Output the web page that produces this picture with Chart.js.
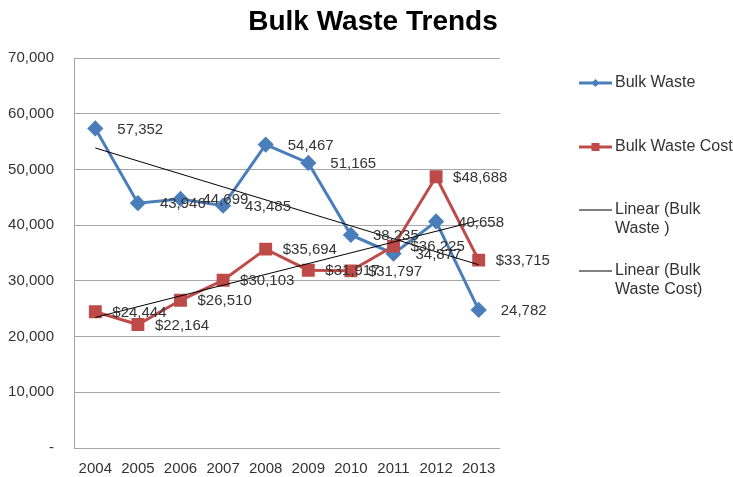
<!DOCTYPE html>
<html>
<head>
<meta charset="utf-8">
<script src="https://cdn.jsdelivr.net/npm/chart.js@4.4.0/dist/chart.umd.min.js"></script>
<style>
  html, body { margin: 0; padding: 0; background: #fff; }
  #wrap { width: 733px; height: 477px; position: relative; }
</style>
</head>
<body>
<div id="wrap"><canvas id="chart" width="733" height="477"></canvas></div>
<script>
const years = ["2004", "2005", "2006", "2007", "2008", "2009", "2010", "2011", "2012", "2013"];
const bulkWaste = [57352, 43946, 44699, 43485, 54467, 51165, 38235, 34877, 40658, 24782];
const bulkWasteCost = [24444, 22164, 26510, 30103, 35694, 31917, 31797, 36225, 48688, 33715];
// trendline ends (first and last year only)
const trendWaste = [53850, null, null, null, null, null, null, null, null, 32890];
const trendCost = [23430, null, null, null, null, null, null, null, null, 40830];
const yTicks = [0, 10000, 20000, 30000, 40000, 50000, 60000, 70000];

const BLUE = "#4a7ebb", RED = "#be4b48", TXT = "#333333", FONT = "'Liberation Sans', Arial, sans-serif";

const fmt = v => v.toLocaleString("en-US");

// title drawn by hand so it can sit centred on the whole picture
const titlePlugin = {
    id: "titlePlugin",
    afterDraw(chart) {
        const ctx = chart.ctx;
        ctx.save();
        ctx.font = "bold 28px " + FONT; ctx.fillStyle = "#000"; ctx.textAlign = "center"; ctx.textBaseline = "middle";
        ctx.fillText("Bulk Waste Trends", 373, 22);
        ctx.restore();
    }
};

// value labels to the right of each point, like Excel's "Right" position
const pointLabels = {
    id: "pointLabels",
    afterDatasetsDraw(chart) {
        const ctx = chart.ctx;
        ctx.save();
        ctx.font = "15px " + FONT; ctx.fillStyle = TXT; ctx.textBaseline = "middle"; ctx.textAlign = "left";
        [[0, v => fmt(v), 22], [1, v => "$" + fmt(v), 17]].forEach(([di, f, dx]) => {
            const ds = chart.data.datasets[di];
            chart.getDatasetMeta(di).data.forEach((pt, i) => ctx.fillText(f(ds.data[i]), pt.x + dx, pt.y + 1));
        });
        ctx.restore();
    }
};

// legend on the right, spaced out like the original
const sideLegend = {
    id: "sideLegend",
    afterDraw(chart) {
        const ctx = chart.ctx;
        const x0 = 579, x1 = 612, tx = 615;
        const items = [
            { y: 83, lines: ["Bulk Waste"], color: BLUE, w: 3, marker: "diamond" },
            { y: 147, lines: ["Bulk Waste Cost"], color: RED, w: 3, marker: "square" },
            { y: 210, lines: ["Linear (Bulk", "Waste )"], color: "#000", w: 1 },
            { y: 271, lines: ["Linear (Bulk", "Waste Cost)"], color: "#000", w: 1 }
        ];
        ctx.save();
        items.forEach(it => {
            ctx.strokeStyle = it.color; ctx.lineWidth = it.w;
            ctx.beginPath(); ctx.moveTo(x0, it.y); ctx.lineTo(x1, it.y); ctx.stroke();
            const mx = (x0 + x1) / 2;
            ctx.fillStyle = it.color;
            if (it.marker === "diamond") {
                ctx.beginPath(); ctx.moveTo(mx, it.y - 4); ctx.lineTo(mx + 4, it.y); ctx.lineTo(mx, it.y + 4); ctx.lineTo(mx - 4, it.y); ctx.closePath(); ctx.fill();
            } else if (it.marker === "square") {
                ctx.fillRect(mx - 4, it.y - 4, 8, 8);
            }
            ctx.font = "16px " + FONT; ctx.fillStyle = TXT; ctx.textBaseline = "middle"; ctx.textAlign = "left";
            it.lines.forEach((l, k) => ctx.fillText(l, tx, it.y + k * 19));
        });
        ctx.restore();
    }
};

new Chart(document.getElementById("chart"), {
    type: "line",
    data: {
        labels: years,
        datasets: [
            { label: "Bulk Waste", data: bulkWaste, borderColor: BLUE, backgroundColor: BLUE, borderWidth: 3, pointStyle: "rectRot", pointRadius: 6, order: 2 },
            { label: "Bulk Waste Cost", data: bulkWasteCost, borderColor: RED, backgroundColor: RED, borderWidth: 3, pointStyle: "rect", pointRadius: 7, order: 1 },
            { label: "Linear (Bulk Waste )", data: trendWaste, borderColor: "#000", borderWidth: 1, pointRadius: 0, spanGaps: true, order: 0 },
            { label: "Linear (Bulk Waste Cost)", data: trendCost, borderColor: "#000", borderWidth: 1, pointRadius: 0, spanGaps: true, order: 0 }
        ]
    },
    options: {
        responsive: false,
        animation: false,
        layout: { padding: { left: 0, right: 233, top: 58, bottom: 0 } },
        plugins: {
            legend: { display: false },
            tooltip: { enabled: false },
            title: { display: false }
        },
        scales: {
            x: {
                offset: true,
                grid: { display: false },
                border: { display: false },
                ticks: { color: TXT, font: { family: FONT, size: 15 }, padding: 4, maxRotation: 0 },
                afterFit: s => { s.height = 28; }
            },
            y: {
                min: 0, max: 70000,
                afterBuildTicks: s => { s.ticks = yTicks.map(v => ({ value: v })); },
                grid: { color: "#a6a6a6", lineWidth: 1, drawTicks: false },
                border: { display: true, color: "#a6a6a6" },
                ticks: { color: TXT, font: { family: FONT, size: 15 }, padding: 20, callback: v => v === 0 ? "-" : fmt(v) },
                afterFit: s => { s.width = 74; }
            }
        }
    },
    plugins: [titlePlugin, pointLabels, sideLegend]
});
</script>
</body>
</html>
